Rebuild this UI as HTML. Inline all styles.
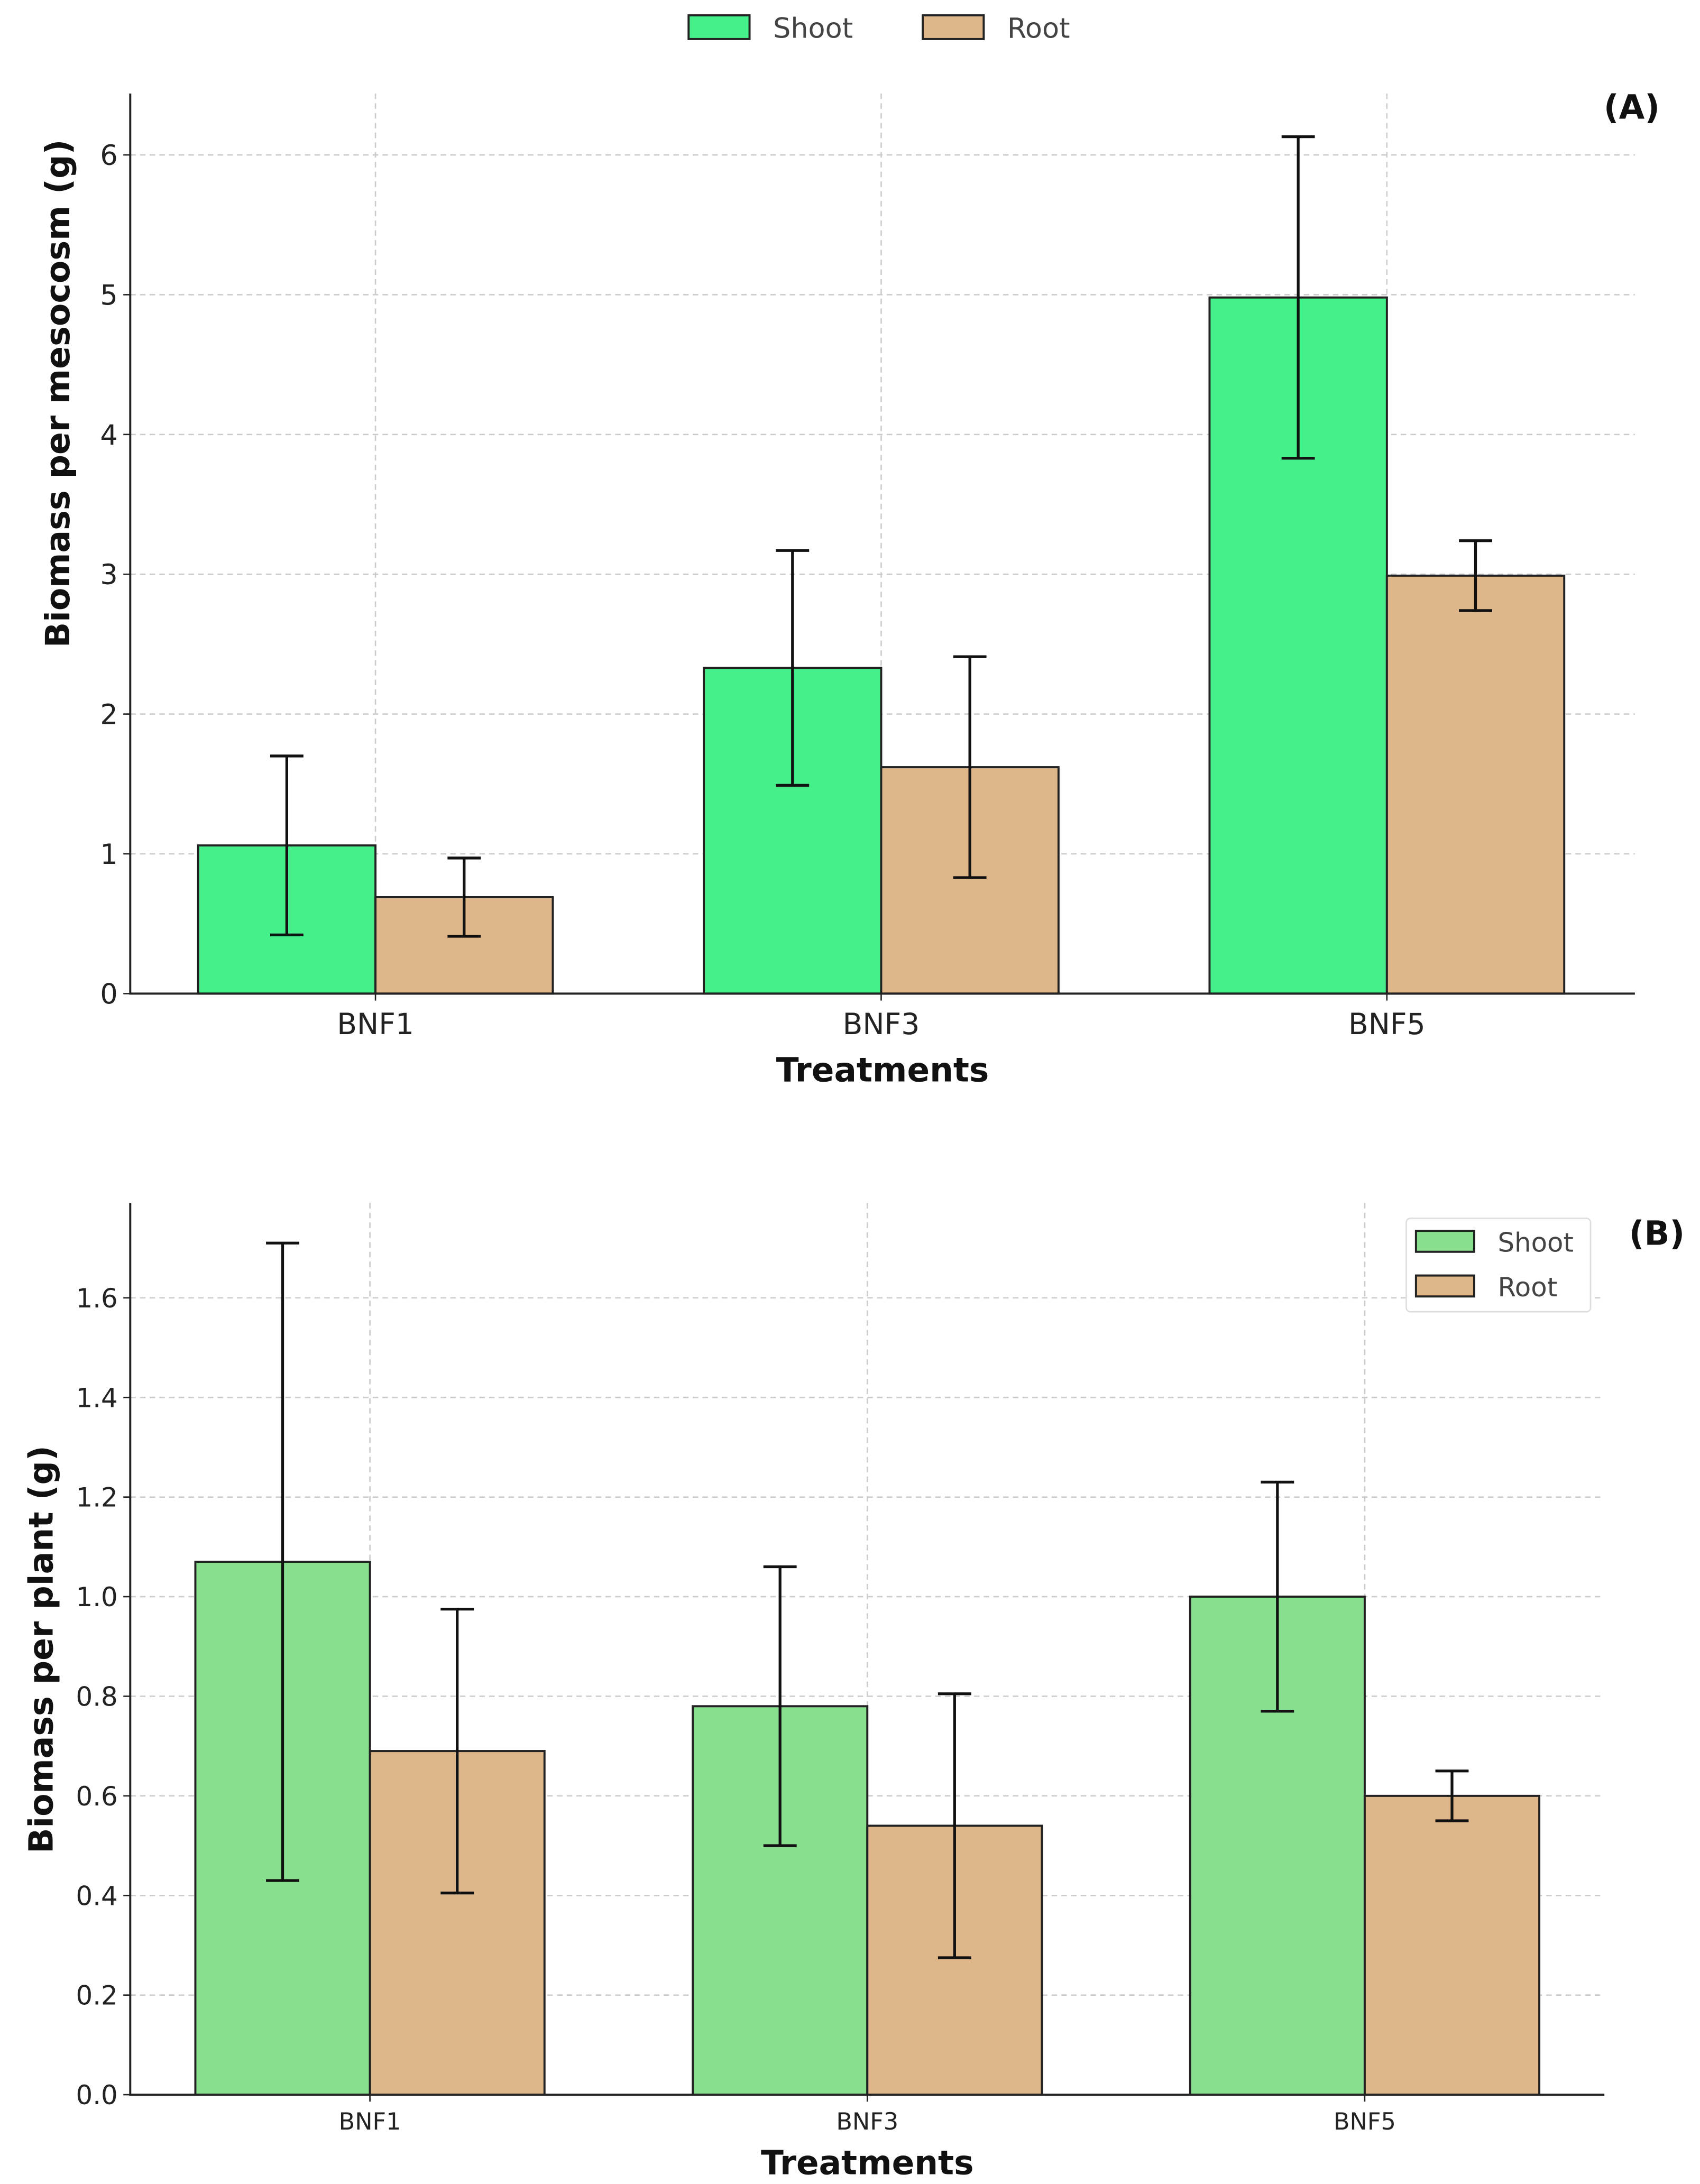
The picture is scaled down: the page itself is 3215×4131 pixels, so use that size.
<!DOCTYPE html>
<html><head><meta charset="utf-8"><style>
html,body{margin:0;padding:0;background:#fff}
svg{display:block}
text{font-family:"DejaVu Sans","Liberation Sans",sans-serif}
</style></head><body>
<svg id="c" width="3215" height="4131" viewBox="0 0 1227 1565" preserveAspectRatio="none" xmlns="http://www.w3.org/2000/svg"></svg>
<script>
const categories=["BNF1","BNF3","BNF5"];
const shootA=[1.06,2.33,4.98];
const shootAerr=[0.64,0.84,1.15];
const rootA=[0.69,1.62,2.99];
const rootAerr=[0.28,0.79,0.25];
const ticksA=[0,1,2,3,4,5,6];
const shootB=[1.07,0.78,1.00];
const shootBerr=[0.64,0.28,0.23];
const rootB=[0.69,0.54,0.60];
const rootBerr=[0.285,0.265,0.05];
const ticksB=[0,0.2,0.4,0.6,0.8,1.0,1.2,1.4,1.6];

const svg=document.getElementById('c');
const NS="http://www.w3.org/2000/svg";
function el(tag,attrs,parent,text){const e=document.createElementNS(NS,tag);for(const k in attrs)e.setAttribute(k,attrs[k]);if(text!==undefined)e.textContent=text;(parent||svg).appendChild(e);return e;}

function panel(cfg){
  const g=el('g',{});
  
  
  const y=v=>cfg.y0-(v/cfg.ymax)*(cfg.y0-cfg.yTopVal);
  const xc=i=>cfg.c0+i*cfg.step;
  cfg.ticks.forEach(t=>{
    if(t>0){const l=el('line',{x1:cfg.x0,x2:cfg.x1,y1:y(t),y2:y(t),stroke:'#ccc','stroke-dasharray':'4,3','stroke-width':1},g);
    }
    const tl=el('text',{x:cfg.x0-9,y:y(t)+cfg.tf*0.36,'text-anchor':'end','font-size':cfg.tf,fill:'#222'},g,cfg.fmt(t));
    
    el('line',{x1:cfg.x0-5,x2:cfg.x0,y1:y(t),y2:y(t),stroke:'#222'},g);
  });
  categories.forEach((c,i)=>{
    const l=el('line',{x1:xc(i),x2:xc(i),y1:cfg.axTop,y2:cfg.y0,stroke:'#ccc','stroke-dasharray':'4,3'},g);
    
  });
  categories.forEach((c,i)=>{
    [[cfg.shoot,cfg.shootErr,cfg.sc,-1,'shoot'],[cfg.root,cfg.rootErr,cfg.rc,0,'root']].forEach(([vals,errs,col,off,nm])=>{
      const x=xc(i)+off*cfg.bw;
      const r=el('rect',{x:x,y:y(vals[i]),width:cfg.bw,height:cfg.y0-y(vals[i]),fill:col,stroke:'#222','stroke-width':1.5},g);
      
      const cx=x+cfg.bw/2;
      const e=el('path',{d:`M${cx},${y(vals[i]-errs[i])}V${y(vals[i]+errs[i])}M${cx-12},${y(vals[i]-errs[i])}H${cx+12}M${cx-12},${y(vals[i]+errs[i])}H${cx+12}`,stroke:'#111','stroke-width':2,fill:'none'},g);
      
    });
    const t=el('text',{x:xc(i),y:cfg.y0+cfg.xf+8,'text-anchor':'middle','font-size':cfg.xf,fill:'#222'},g,c);
    
    el('line',{x1:xc(i),x2:xc(i),y1:cfg.y0,y2:cfg.y0+5,stroke:'#222'},g);
  });
  const ax=el('path',{d:`M${cfg.x0},${cfg.axTop}V${cfg.y0}H${cfg.x1}`,stroke:'#222','stroke-width':1.5,fill:'none'},g);
  
  const xt=el('text',{x:(cfg.x0+cfg.x1)/2,y:cfg.xtY,'text-anchor':'middle','font-size':24,'font-weight':'bold',fill:'#111'},g,'Treatments');
  
  const yt=el('text',{x:0,y:0,transform:`translate(${cfg.ytX},${cfg.ytY}) rotate(-90)`,'text-anchor':'middle','font-size':24,'font-weight':'bold',fill:'#111'},g,cfg.ylabel);
  
  const pl=el('text',{x:cfg.plX,y:cfg.plY,'text-anchor':'end','font-size':24,'font-weight':'bold',fill:'#111'},g,cfg.label);
  
}

panel({name:'panel-a',x0:94,x1:1180,y0:712,yTopVal:111,ymax:6,axTop:67,c0:271,step:365,bw:128,
  ticks:ticksA,fmt:t=>String(t),tf:20,xf:21,shoot:shootA,shootErr:shootAerr,root:rootA,rootErr:rootAerr,
  sc:'#45ef8a',rc:'#deb68a',xtY:775,ytX:50,ytY:282,ylabel:'Biomass per mesocosm (g)',label:'(A)',plX:1198,plY:85});
panel({name:'panel-b',x0:94,x1:1158,y0:1501,yTopVal:930,ymax:1.6,axTop:862,c0:267,step:359,bw:126,
  ticks:ticksB,fmt:t=>t.toFixed(1),tf:19,xf:17,shoot:shootB,shootErr:shootBerr,root:rootB,rootErr:rootBerr,
  sc:'#88e08f',rc:'#deb68a',xtY:1558,ytX:38,ytY:1182,ylabel:'Biomass per plant (g)',label:'(B)',plX:1216,plY:892});

const lA=el('g',{});

el('rect',{x:497,y:11,width:44,height:17,fill:'#45ef8a',stroke:'#222','stroke-width':1.5},lA);
el('text',{x:558,y:27,'font-size':20,fill:'#444'},lA,'Shoot');
el('rect',{x:666,y:11,width:44,height:17,fill:'#deb68a',stroke:'#222','stroke-width':1.5},lA);
el('text',{x:727,y:27,'font-size':20,fill:'#444'},lA,'Root');
const lB=el('g',{});

el('rect',{x:1015,y:873,width:133,height:67,rx:3,fill:'#fff',stroke:'#ddd'},lB);
el('rect',{x:1022,y:882,width:42,height:15,fill:'#88e08f',stroke:'#222','stroke-width':1.5},lB);
el('text',{x:1081,y:897,'font-size':19,fill:'#444'},lB,'Shoot');
el('rect',{x:1022,y:914,width:42,height:15,fill:'#deb68a',stroke:'#222','stroke-width':1.5},lB);
el('text',{x:1081,y:929,'font-size':19,fill:'#444'},lB,'Root');
</script>
</body></html>
